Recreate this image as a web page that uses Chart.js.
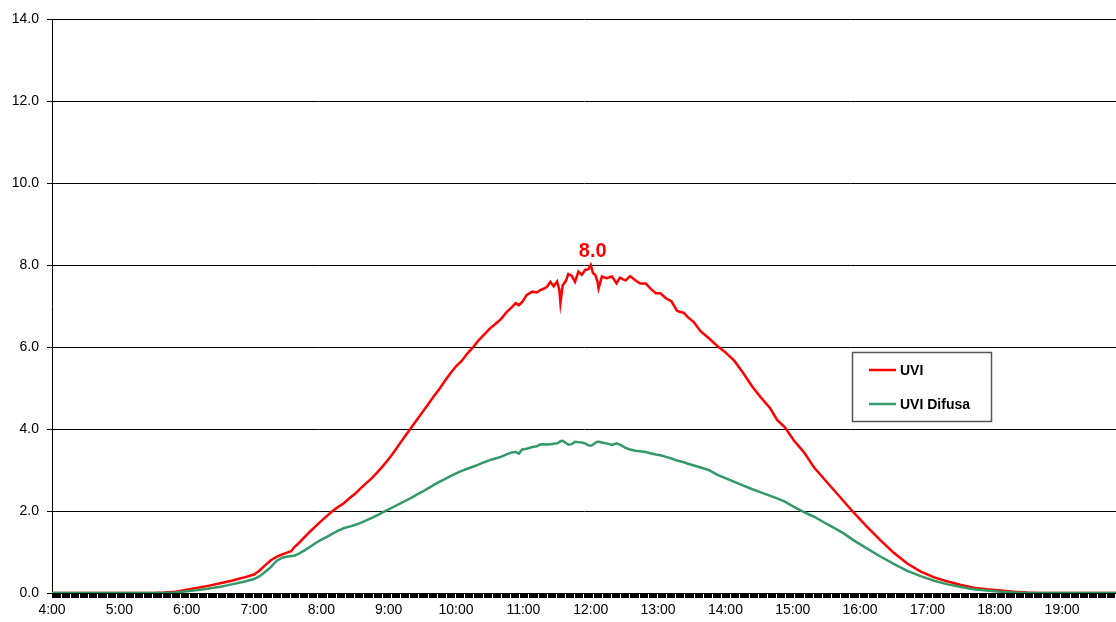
<!DOCTYPE html>
<html><head><meta charset="utf-8">
<script src="https://cdn.jsdelivr.net/npm/chart.js@4.4.1/dist/chart.umd.min.js"></script>
<style>html,body{margin:0;padding:0;background:#fff;overflow:hidden}canvas{display:block}</style>
</head><body>
<canvas id="c" width="1116" height="622"></canvas>
<script>
// ---- data ----
const times = ["4:00","4:30","5:00","5:30","5:40","5:50","6:00","6:10","6:20","6:30","6:40","6:50",
"7:00","7:05","7:10","7:15","7:20","7:25","7:30","7:33","7:36","7:40","7:45","7:50","7:55",
"8:00","8:05","8:10","8:15","8:20","8:25","8:30","8:35","8:40","8:45","8:50","8:55",
"9:00","9:05","9:10","9:15","9:20","9:25","9:30","9:35","9:40","9:45","9:50","9:55",
"10:00","10:05","10:10","10:15","10:20","10:25","10:30","10:35","10:40","10:45","10:50","10:53","10:56","10:59",
"11:03","11:08","11:12","11:15","11:18","11:21","11:24","11:27","11:30","11:32","11:33","11:35","11:38","11:40","11:43","11:46","11:49","11:52","11:55","11:58",
"12:00","12:02","12:04","12:06","12:07","12:10","12:14","12:19","12:23","12:26","12:31","12:35","12:40","12:44","12:49","12:53","12:58",
"13:02","13:07","13:12","13:17","13:23","13:26","13:32","13:38","13:45","13:53",
"14:00","14:08","14:16","14:24","14:31","14:40","14:46","14:53",
"15:01","15:10","15:19","15:28","15:36","15:45","15:54",
"16:06","16:18","16:30","16:42","16:54","17:06","17:18","17:29","17:41","17:53",
"18:05","18:17","18:29","18:40","19:00","19:30","19:48"];
const uvi = [0,0,0,0,0.01,0.03,0.08,0.13,0.18,0.24,0.30,0.37,
0.45,0.55,0.68,0.80,0.88,0.94,0.99,1.02,1.12,1.22,1.36,1.50,1.63,
1.76,1.88,2.00,2.10,2.19,2.31,2.42,2.55,2.68,2.80,2.95,3.10,
3.27,3.45,3.65,3.84,4.03,4.22,4.41,4.60,4.79,4.97,5.17,5.36,
5.53,5.66,5.84,5.99,6.16,6.30,6.45,6.56,6.68,6.85,6.98,7.07,7.02,7.10,
7.27,7.35,7.33,7.39,7.42,7.47,7.59,7.48,7.60,7.40,7.07,7.50,7.62,7.78,7.74,7.59,7.84,7.76,7.88,7.90,
8.00,7.80,7.76,7.60,7.43,7.72,7.68,7.72,7.55,7.69,7.62,7.73,7.62,7.55,7.55,7.43,7.31,
7.31,7.19,7.11,6.88,6.83,6.74,6.60,6.38,6.22,6.02,
5.87,5.66,5.36,5.03,4.79,4.50,4.22,4.04,
3.72,3.43,3.06,2.78,2.53,2.25,1.97,
1.62,1.29,0.98,0.72,0.52,0.38,0.28,0.20,0.13,0.09,
0.06,0.03,0.01,0,0,0,0];
const uviDifusa = [0,0,0,0,0,0.01,0.04,0.07,0.11,0.15,0.21,0.27,
0.34,0.41,0.52,0.63,0.78,0.86,0.89,0.90,0.91,0.96,1.04,1.13,1.22,
1.30,1.37,1.45,1.52,1.58,1.62,1.66,1.71,1.77,1.83,1.90,1.97,
2.04,2.11,2.18,2.25,2.32,2.40,2.47,2.55,2.63,2.71,2.78,2.85,
2.92,2.98,3.03,3.08,3.13,3.19,3.24,3.28,3.32,3.38,3.43,3.44,3.40,3.50,
3.52,3.56,3.58,3.62,3.63,3.62,3.63,3.64,3.65,3.68,3.70,3.71,3.66,3.62,3.63,3.69,3.68,3.67,3.65,3.60,
3.59,3.62,3.66,3.69,3.69,3.67,3.65,3.61,3.65,3.62,3.54,3.50,3.47,3.46,3.44,3.41,3.38,
3.36,3.32,3.28,3.23,3.19,3.16,3.11,3.06,3.00,2.88,
2.80,2.71,2.62,2.53,2.46,2.37,2.31,2.23,
2.10,1.97,1.86,1.72,1.60,1.46,1.29,
1.09,0.89,0.71,0.54,0.41,0.30,0.21,0.15,0.09,0.06,
0.03,0.01,0,0,0,0,0];
const seriesNames = ["UVI", "UVI Difusa"];
const seriesColors = ["#FF0000", "#339966"];
const yTickValues = [0, 2, 4, 6, 8, 10, 12, 14];
const xRange = ["4:00", "19:48"];

// ---- helpers ----
function toMin(s){ const p = s.split(":").map(Number); return p[0]*60 + p[1]; }
function pts(vals){ return vals.map((v,i)=>({x: toMin(times[i]), y: v})); }
const xMin = toMin(xRange[0]), xMax = toMin(xRange[1]);
const FONT = "'Liberation Sans', Arial, sans-serif";

const boxLegend = {
  id: 'boxLegend',
  afterDraw(chart){
    const ctx = chart.ctx;
    const x = 852.5, y = 352.5, w = 139, h = 69;
    ctx.save();
    ctx.fillStyle = '#fff'; ctx.fillRect(x, y, w, h);
    ctx.strokeStyle = '#555'; ctx.lineWidth = 1.5; ctx.strokeRect(x, y, w, h);
    ctx.font = "bold 14px " + FONT; ctx.textBaseline = 'middle'; ctx.textAlign = 'left';
    chart.data.datasets.forEach((ds, i) => {
      const ly = 370 + i*34;
      ctx.strokeStyle = ds.borderColor; ctx.lineWidth = 2.5;
      ctx.beginPath(); ctx.moveTo(869, ly); ctx.lineTo(896, ly); ctx.stroke();
      ctx.fillStyle = '#000'; ctx.fillText(ds.label, 900, ly + 1);
    });
    ctx.restore();
  }
};
const maxLabel = {
  id: 'maxLabel',
  afterDatasetsDraw(chart){
    const d = chart.data.datasets[0].data;
    let best = d[0];
    d.forEach(p => { if (p.y > best.y) best = p; });
    const px = chart.scales.x.getPixelForValue(best.x);
    const py = chart.scales.y.getPixelForValue(best.y);
    const ctx = chart.ctx;
    ctx.save();
    ctx.font = "bold 20px " + FONT; ctx.fillStyle = seriesColors[0];
    ctx.textAlign = 'center'; ctx.textBaseline = 'alphabetic';
    ctx.fillText(best.y.toFixed(1), px + 2, py - 8);
    ctx.restore();
  }
};

new Chart(document.getElementById('c'), {
  type: 'line',
  data: {
    datasets: [
      { label: seriesNames[0], data: pts(uvi), borderColor: seriesColors[0], borderWidth: 2.5, pointRadius: 0, tension: 0, order: 1 },
      { label: seriesNames[1], data: pts(uviDifusa), borderColor: seriesColors[1], borderWidth: 2.5, pointRadius: 0, tension: 0, order: 0 }
    ]
  },
  options: {
    responsive: false, animation: false, devicePixelRatio: 1,
    layout: { padding: { top: 19, right: 0, left: 0, bottom: 0 } },
    plugins: { legend: { display: false }, tooltip: { enabled: false } },
    scales: {
      x: {
        type: 'linear', min: xMin, max: xMax,
        afterBuildTicks: (s) => { const t = []; for (let v = xMin; v <= xMax; v++) t.push({ value: v }); s.ticks = t; },
        afterFit: (s) => { s.height = 29; s.paddingLeft = 0; s.paddingRight = 0; },
        ticks: {
          autoSkip: false, maxRotation: 0, minRotation: 0, padding: 4, color: '#000',
          font: { family: FONT, size: 14 },
          callback: (v) => (v % 60 === 0 ? (v/60) + ':00' : '')
        },
        grid: { drawOnChartArea: false, drawTicks: true, tickLength: 5, color: '#000', lineWidth: 1 },
        border: { display: true, color: '#000', width: 1 }
      },
      y: {
        min: 0, max: 14,
        afterBuildTicks: (s) => { s.ticks = yTickValues.map(v => ({ value: v })); },
        afterFit: (s) => { s.width = 52; s.paddingTop = 0; s.paddingBottom = 0; },
        ticks: { padding: 8, color: '#000', font: { family: FONT, size: 14 }, callback: (v) => Number(v).toFixed(1) },
        grid: { color: '#000', lineWidth: 1, drawTicks: true, tickLength: 5 },
        border: { display: true, color: '#000', width: 1 }
      }
    }
  },
  plugins: [maxLabel, boxLegend]
});
</script>
</body></html>
